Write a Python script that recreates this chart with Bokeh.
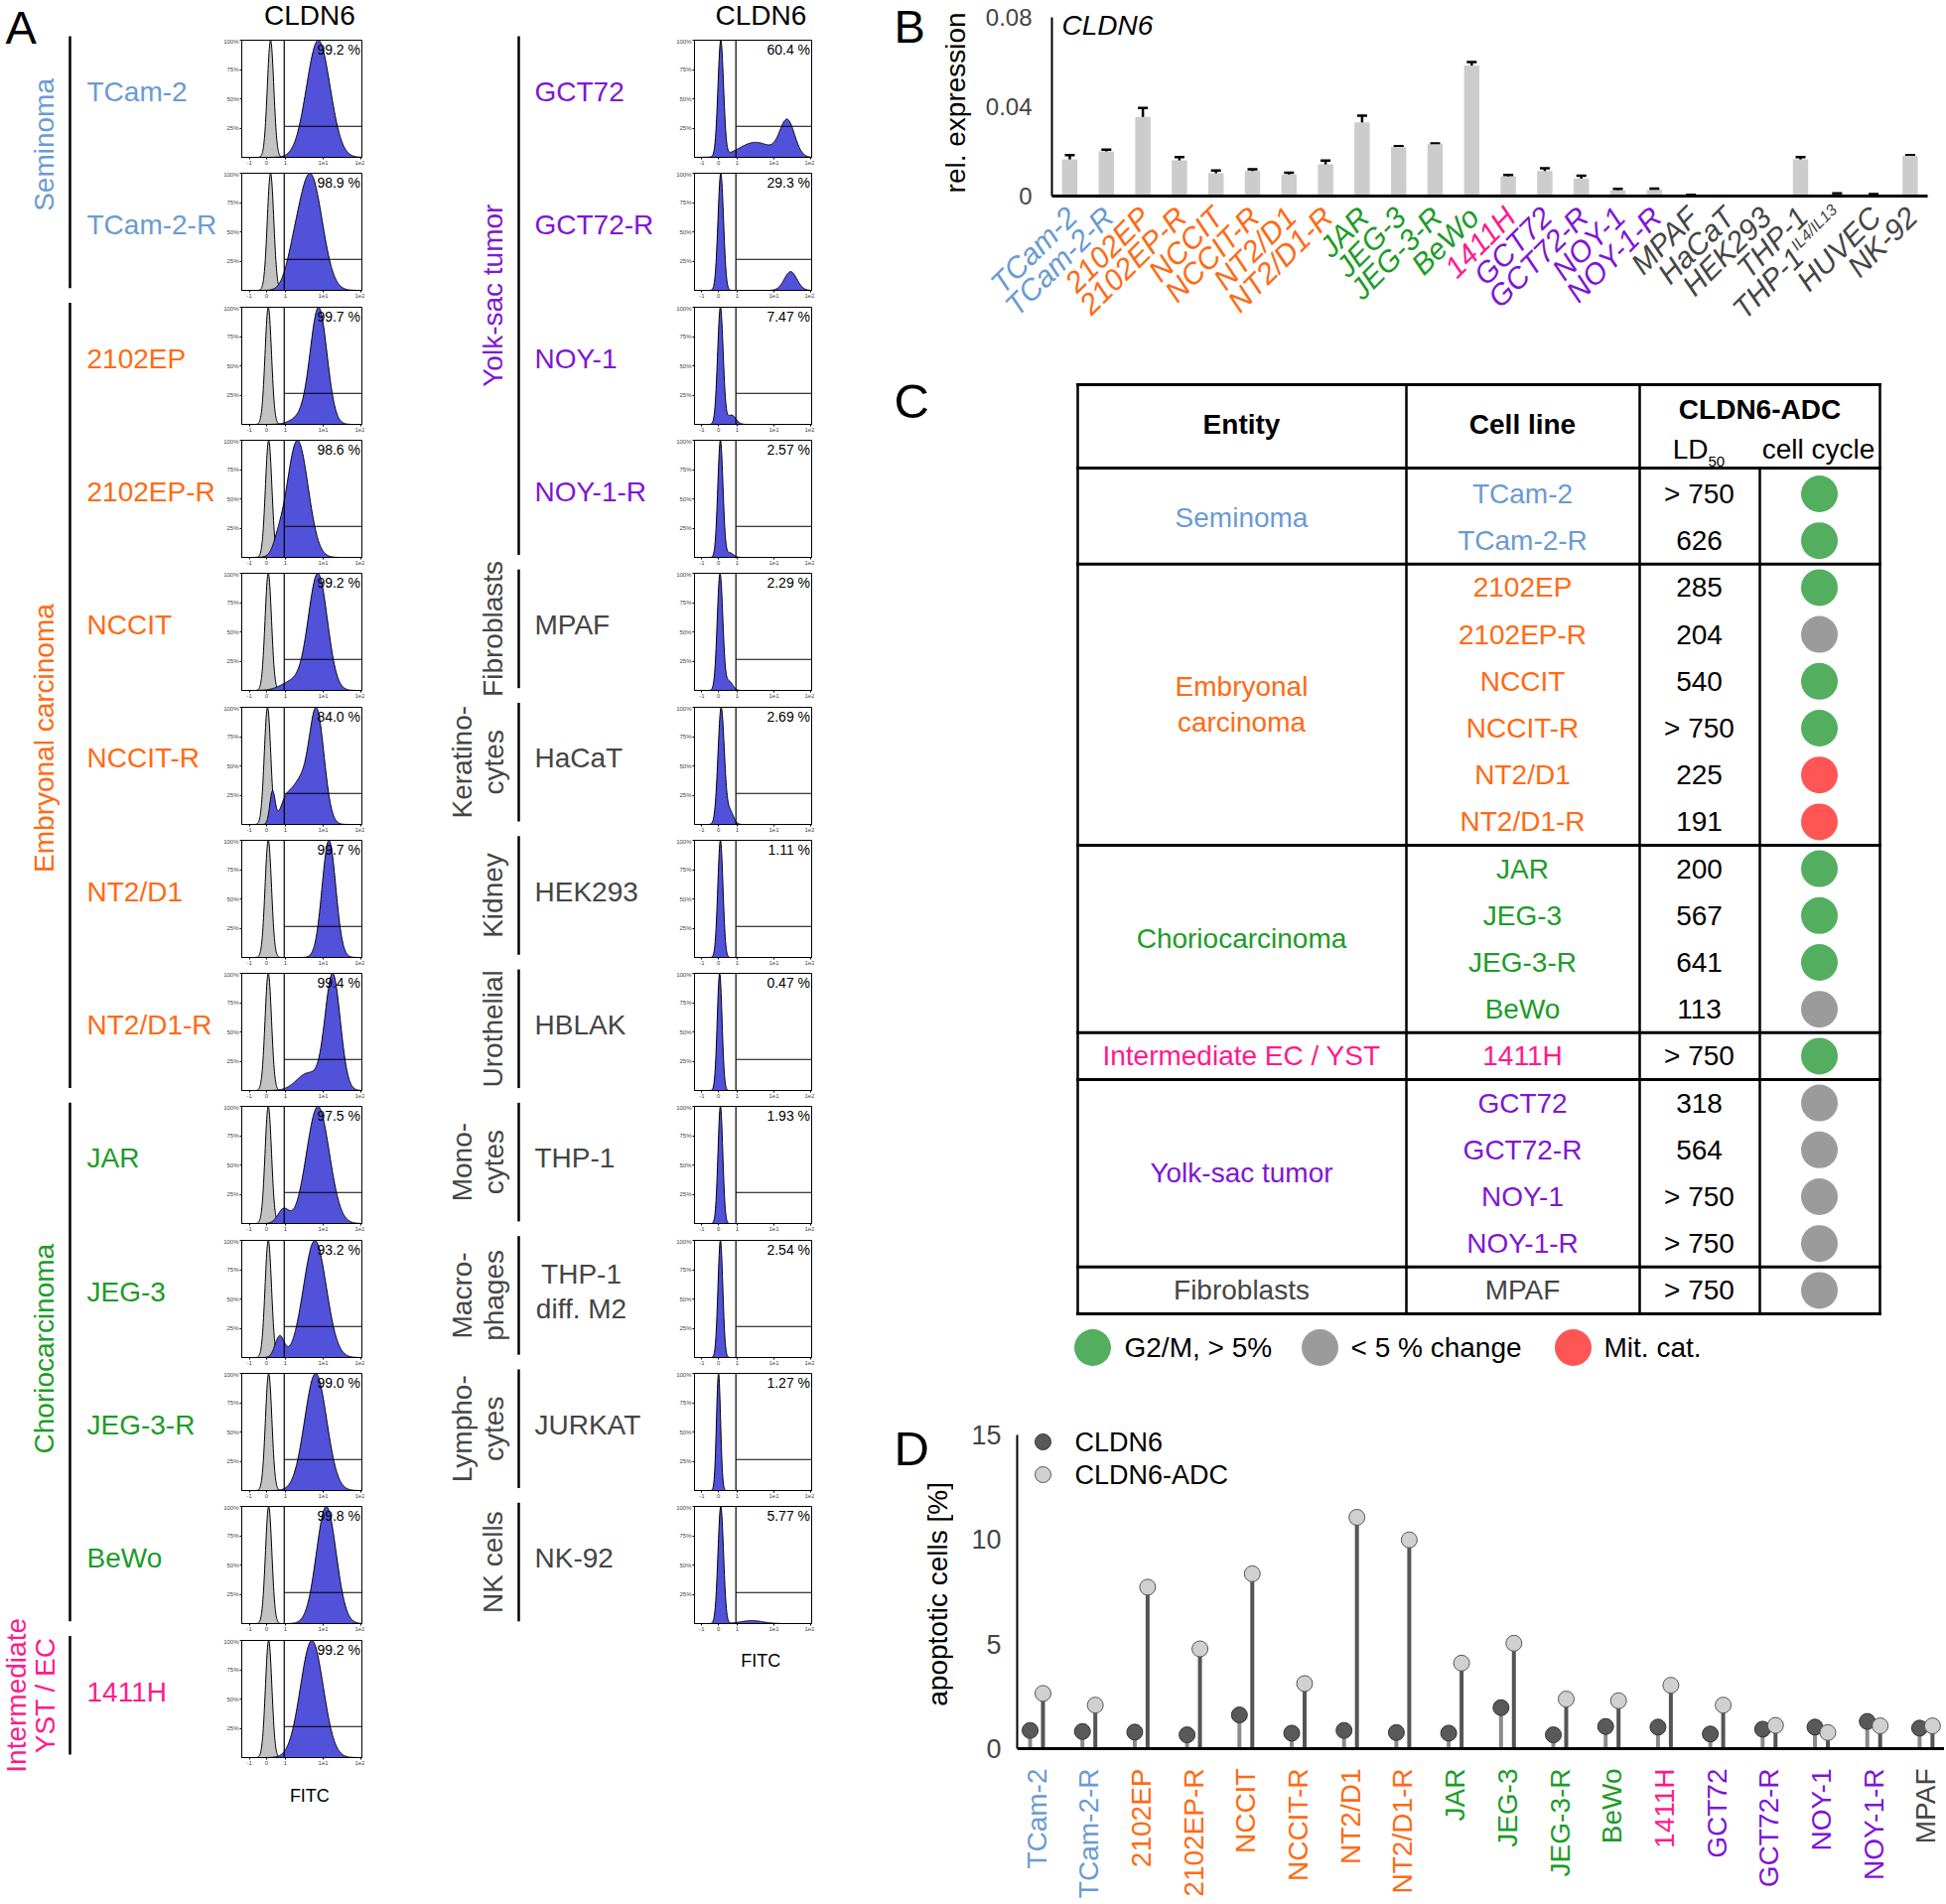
import math
import numpy as np
from bokeh.plotting import figure
from bokeh.layouts import row, column
from bokeh.models import Range1d, ColumnDataSource, Whisker, TeeHead, FixedTicker
from bokeh.core.properties import value
from bokeh.embed import file_html
from bokeh.resources import INLINE

FONT = "Liberation Sans"
GROUP_COLORS = {"S": "#6a9bd3", "E": "#ff6a13", "C": "#1c9c28", "I": "#ff1a8c",
                "Y": "#7f16d4", "O": "#454545"}

# ---------------- Panel A data (flow cytometry, CLDN6 / FITC) ----------------
a_left_lines = ["TCam-2", "TCam-2-R", "2102EP", "2102EP-R", "NCCIT", "NCCIT-R", "NT2/D1",
                "NT2/D1-R", "JAR", "JEG-3", "JEG-3-R", "BeWo", "1411H"]
a_left_groups = ["S", "S", "E", "E", "E", "E", "E", "E", "C", "C", "C", "C", "I"]
a_left_pct = ["99.2 %", "98.9 %", "99.7 %", "98.6 %", "99.2 %", "84.0 %", "99.7 %", "99.4 %",
              "97.5 %", "93.2 %", "99.0 %", "99.8 %", "99.2 %"]
a_left_ctrl = [0.61, 0.61, 0.55, 0.56, 0.55, 0.53, 0.55, 0.55, 0.55, 0.55, 0.56, 0.56, 0.56]
a_left_peaks = [
    [(1.87, 0.31, 1.0)],
    [(1.66, 0.31, 1.0), (1.2, 0.2, 0.15)],
    [(1.88, 0.22, 1.0), (1.4, 0.25, 0.06)],
    [(1.32, 0.28, 1.0), (0.8, 0.12, 0.07)],
    [(1.86, 0.25, 1.0), (1.2, 0.3, 0.08)],
    [(1.82, 0.2, 1.0), (1.35, 0.2, 0.33), (0.66, 0.07, 0.28), (1.0, 0.15, 0.18)],
    [(2.15, 0.18, 1.0)],
    [(2.25, 0.2, 1.0), (1.6, 0.3, 0.15)],
    [(1.86, 0.3, 1.0), (0.95, 0.15, 0.12)],
    [(1.78, 0.3, 1.0), (0.85, 0.12, 0.18)],
    [(1.8, 0.29, 1.0)],
    [(2.08, 0.26, 1.0)],
    [(1.7, 0.3, 1.0)],
]
a_left_sections = [(["Seminoma"], 0, 1, "S"), (["Embryonal carcinoma"], 2, 7, "E"),
                   (["Choriocarcinoma"], 8, 11, "C"), (["Intermediate", "YST / EC"], 12, 12, "I")]

a_right_lines = ["GCT72", "GCT72-R", "NOY-1", "NOY-1-R", "MPAF", "HaCaT", "HEK293", "HBLAK",
                 "THP-1", "THP-1\ndiff. M2", "JURKAT", "NK-92"]
a_right_groups = ["Y", "Y", "Y", "Y", "O", "O", "O", "O", "O", "O", "O", "O"]
a_right_pct = ["60.4 %", "29.3 %", "7.47 %", "2.57 %", "2.29 %", "2.69 %", "1.11 %", "0.47 %",
               "1.93 %", "2.54 %", "1.27 %", "5.77 %"]
a_right_peaks = [
    [(0.56, 0.075, 1.0), (1.5, 0.45, 0.13), (2.36, 0.2, 0.31)],
    [(0.56, 0.075, 1.0), (2.45, 0.17, 0.16)],
    [(0.55, 0.075, 1.0), (0.85, 0.12, 0.08)],
    [(0.55, 0.07, 1.0), (0.8, 0.1, 0.04)],
    [(0.54, 0.075, 1.0), (0.78, 0.1, 0.08)],
    [(0.57, 0.085, 1.0), (0.8, 0.1, 0.12)],
    [(0.55, 0.07, 1.0)],
    [(0.53, 0.065, 1.0)],
    [(0.55, 0.065, 1.0)],
    [(0.55, 0.065, 1.0)],
    [(0.5, 0.055, 1.0)],
    [(0.56, 0.075, 1.0), (1.4, 0.3, 0.025)],
]
a_right_sections = [(["Yolk-sac tumor"], 0, 3, "Y"), (["Fibroblasts"], 4, 4, "O"),
                    (["Keratino-", "cytes"], 5, 5, "O"), (["Kidney"], 6, 6, "O"),
                    (["Urothelial"], 7, 7, "O"), (["Mono-", "cytes"], 8, 8, "O"),
                    (["Macro-", "phages"], 9, 9, "O"), (["Lympho-", "cytes"], 10, 10, "O"),
                    (["NK cells"], 11, 11, "O")]
hist_x_ticks = [0.05, 0.5, 1, 2, 3]
hist_x_labels = ["-1", "0", "1", "1e1", "1e2"]
hist_y_ticks = [0.25, 0.5, 0.75, 1.0]
hist_y_labels = ["25%", "50%", "75%", "100%"]
gate_x = 0.97
gate_y = 0.265

# ---------------- Panel B data (rel. expression) ----------------
b_lines = ["TCam-2", "TCam-2-R", "2102EP", "2102EP-R", "NCCIT", "NCCIT-R", "NT2/D1", "NT2/D1-R",
           "JAR", "JEG-3", "JEG-3-R", "BeWo", "1411H", "GCT72", "GCT72-R", "NOY-1", "NOY-1-R",
           "MPAF", "HaCaT", "HEK293", "THP-1", "THP-1", "HUVEC", "NK-92"]
b_sup = [""] * 21 + ["IL4/IL13", "", ""]
b_groups = ["S", "S", "E", "E", "E", "E", "E", "E", "C", "C", "C", "C", "I", "Y", "Y", "Y", "Y",
            "O", "O", "O", "O", "O", "O", "O"]
b_rel = [0.0165, 0.0200, 0.0355, 0.0160, 0.0102, 0.0112, 0.0097, 0.0142, 0.0330, 0.0220, 0.0232,
         0.0585, 0.0088, 0.0112, 0.0078, 0.0026, 0.0028, 0.0004, 0.0, 0.0, 0.0165, 0.0008,
         0.0006, 0.0180]
b_err = [0.0018, 0.0008, 0.0040, 0.0015, 0.0012, 0.0008, 0.0008, 0.0017, 0.0030, 0.0003, 0.0004,
         0.0015, 0.0006, 0.0012, 0.0013, 0.0006, 0.0005, 0.0002, 0.0, 0.0, 0.0010, 0.0004,
         0.0003, 0.0003]
b_ticks = [0, 0.04, 0.08]
b_tick_labels = ["0", "0.04", "0.08"]

# ---------------- Panel C data (table) ----------------
c_lines = ["TCam-2", "TCam-2-R", "2102EP", "2102EP-R", "NCCIT", "NCCIT-R", "NT2/D1", "NT2/D1-R",
           "JAR", "JEG-3", "JEG-3-R", "BeWo", "1411H", "GCT72", "GCT72-R", "NOY-1", "NOY-1-R", "MPAF"]
c_groups = ["S", "S", "E", "E", "E", "E", "E", "E", "C", "C", "C", "C", "I", "Y", "Y", "Y", "Y", "O"]
c_ld50 = ["> 750", "626", "285", "204", "540", "> 750", "225", "191", "200", "567", "641", "113",
          "> 750", "318", "564", "> 750", "> 750", "> 750"]
c_cycle = ["G", "G", "G", "N", "G", "G", "M", "M", "G", "G", "G", "N", "G", "N", "N", "N", "N", "N"]
c_entities = [(["Seminoma"], 0, 1, "S"), (["Embryonal", "carcinoma"], 2, 7, "E"),
              (["Choriocarcinoma"], 8, 11, "C"), (["Intermediate EC / YST"], 12, 12, "I"),
              (["Yolk-sac tumor"], 13, 16, "Y"), (["Fibroblasts"], 17, 17, "O")]
c_cycle_colors = {"G": "#53ae5f", "N": "#9b9b9b", "M": "#ff5555"}
c_legend_keys = ["G", "N", "M"]
c_legend_text = ["G2/M, > 5%", "< 5 % change", "Mit. cat."]

# ---------------- Panel D data (apoptotic cells) ----------------
d_lines = ["TCam-2", "TCam-2-R", "2102EP", "2102EP-R", "NCCIT", "NCCIT-R", "NT2/D1", "NT2/D1-R",
           "JAR", "JEG-3", "JEG-3-R", "BeWo", "1411H", "GCT72", "GCT72-R", "NOY-1", "NOY-1-R", "MPAF"]
d_groups = ["S", "S", "E", "E", "E", "E", "E", "E", "C", "C", "C", "C", "I", "Y", "Y", "Y", "Y", "O"]
d_cldn6 = [0.87, 0.82, 0.79, 0.66, 1.61, 0.74, 0.87, 0.77, 0.74, 1.96, 0.66, 1.06, 1.03, 0.70,
           0.93, 1.03, 1.30, 0.98]
d_adc = [2.64, 2.08, 7.72, 4.77, 8.36, 3.11, 11.06, 9.98, 4.09, 5.04, 2.37, 2.29, 3.03, 2.08,
         1.11, 0.77, 1.09, 1.09]
d_ticks = [0, 5, 10, 15]
d_series = ["CLDN6", "CLDN6-ADC"]
d_fill = ["#595959", "#d0d0d0"]
d_edge = ["#333333", "#555555"]
d_stem = ["#8c8c8c", "#555555"]


# ---------------- helpers ----------------
def px_fig(x0, x1, y0, y1, xr=None, yr=None):
    p = figure(width=int(x1 - x0), height=int(y1 - y0),
               x_range=xr if xr is not None else Range1d(x0, x1),
               y_range=yr if yr is not None else Range1d(y1, y0),
               x_axis_type=None, y_axis_type=None, output_backend="svg",
               toolbar_location=None, min_border=0, title=None)
    p.outline_line_color = None
    return p


def txt(p, xs, ys, texts, size, color="black", align="center", baseline="middle",
        angle=0.0, style="normal", xo=0, yo=0):
    src = ColumnDataSource(dict(x=list(xs), y=list(ys), t=list(texts),
                                c=color if isinstance(color, list) else [color] * len(texts),
                                xo=xo if isinstance(xo, list) else [xo] * len(texts),
                                yo=yo if isinstance(yo, list) else [yo] * len(texts)))
    p.text(x="x", y="y", text="t", source=src, text_color="c", x_offset="xo", y_offset="yo",
           text_font=value(FONT), text_font_size=value(f"{size}px"), text_align=align,
           text_baseline=baseline, angle=angle, text_font_style=style)


def plain_axis(ax, ticks, size, standoff, width):
    ax.ticker = FixedTicker(ticks=ticks)
    ax.major_tick_out = 0
    ax.major_tick_in = 0
    ax.minor_tick_out = 0
    ax.minor_tick_in = 0
    ax.major_label_standoff = standoff
    ax.axis_line_width = width
    ax.axis_line_color = "black"
    ax.major_label_text_font = FONT
    ax.major_label_text_font_size = size


W_TOT, H_TOT = 1958, 1916

# ---------------- Panel A ----------------
A_TOP, A_PITCH, A_FH = 40, 134.3, 118


def a_row(y):
    return (y - A_TOP) / A_PITCH


def label_fig(x0, x1, lines, groups, sections, shifts, line_x, label_x, two_dx, multi_x):
    p = px_fig(x0, x1, 0, H_TOT, yr=Range1d(a_row(H_TOT), a_row(0)))
    p.segment(x0=[line_x] * len(sections), x1=[line_x] * len(sections),
              y0=[s - 0.03 for _, s, _, _ in sections], y1=[e + 0.86 for _, _, e, _ in sections],
              line_width=2.5, line_color="black")
    for (names, s, e, g), sh in zip(sections, shifts):
        yc = (s - 0.03 + e + 0.86) / 2 + sh
        xs = [line_x - 26] if len(names) == 1 else [line_x + two_dx[0], line_x + two_dx[1]]
        txt(p, xs, [yc] * len(names), names, 28, GROUP_COLORS[g], angle=math.pi / 2)
    for i, (name, g) in enumerate(zip(lines, groups)):
        parts = name.split("\n")
        if len(parts) == 1:
            txt(p, [label_x], [i + 0.387], parts, 28, GROUP_COLORS[g], align="left")
        else:
            txt(p, [multi_x] * 2, [i + 0.387 - 0.13, i + 0.387 + 0.13], parts, 28, GROUP_COLORS[g])
    return p


U = np.linspace(-0.15, 3.02, 420)


def density(peaks):
    d = np.zeros_like(U)
    for c, s, h in peaks:
        d += h * np.exp(-0.5 * ((U - c) / s) ** 2)
    return d / d.max()


def hist_fig(x0, x1, h, peaks, pct, ctrl=None):
    p = figure(width=int(x1 - x0), height=int(h), x_range=Range1d(-0.15, 3.02),
               y_range=Range1d(0, 1.0), output_backend="svg", toolbar_location=None, title=None,
               min_border_left=22, min_border_right=3, min_border_top=2,
               min_border_bottom=int(h - 2 - A_FH))
    p.grid.visible = False
    p.outline_line_color = "black"
    p.outline_line_width = 1
    p.xaxis.ticker = hist_x_ticks
    p.xaxis.major_label_overrides = dict(zip(hist_x_ticks, hist_x_labels))
    p.yaxis.ticker = hist_y_ticks
    p.yaxis.major_label_overrides = dict(zip(hist_y_ticks, hist_y_labels))
    for ax in (p.xaxis[0], p.yaxis[0]):
        ax.major_label_text_font = FONT
        ax.major_label_text_font_size = "6px"
        ax.major_tick_out = 2
        ax.major_tick_in = 0
        ax.minor_tick_out = 0
        ax.minor_tick_in = 0
        ax.major_label_standoff = 1
        ax.axis_line_color = "black"
    if ctrl is not None:
        dc = density([(ctrl, 0.085, 1.0)])
        p.varea(x=U, y1=0, y2=dc, fill_color="#c3c3c3")
        p.line(U, dc, line_color="black", line_width=1)
    db = density(peaks)
    p.varea(x=U, y1=0, y2=db, fill_color="#5151da")
    p.line(U, db, line_color="black", line_width=1)
    p.segment(x0=[gate_x, gate_x], y0=[0, gate_y], x1=[gate_x, 3.02], y1=[1.0, gate_y],
              line_color="black", line_width=1.2)
    txt(p, [2.98], [0.985], [pct], 14, align="right", baseline="top")
    return p


tops = [round(A_TOP + A_PITCH * i) - 2 for i in range(14)]


def hist_column(x0, x1, pcts, peaks, ctrls, title_x, fitc_y):
    n = len(pcts)
    hdr = px_fig(x0, x1, 0, tops[0])
    txt(hdr, [title_x], [15], ["CLDN6"], 28)
    figs = [hdr]
    for i in range(n):
        h = tops[i + 1] - tops[i] if i < n - 1 else 134
        figs.append(hist_fig(x0, x1, h, peaks[i], pcts[i], ctrls[i] if ctrls else None))
    fy0 = tops[n - 1] + 134
    ftr = px_fig(x0, x1, fy0, H_TOT)
    txt(ftr, [title_x], [fitc_y], ["FITC"], 18)
    figs.append(ftr)
    return column(*figs)


left_labels = label_fig(0, 221, a_left_lines, a_left_groups, a_left_sections,
                        [-0.13, 0.32, -0.1, 0.0], 70, 87, (-54, -25), 0)
txt(left_labels, [5], [a_row(27)], ["A"], 47, align="left")
left_hist = hist_column(221, 367, a_left_pct, a_left_peaks, a_left_ctrl, 303.5, 1808)
mid_labels = label_fig(367, 677, a_right_lines, a_right_groups, a_right_sections,
                       [0.0] * len(a_right_sections), 522, 538, (-57, -25), 585)
right_hist = hist_column(677, 820, a_right_pct, a_right_peaks, None, 758, 1672)

# ---------------- Panel B ----------------
b_dec = px_fig(820, 980, 0, 340)
txt(b_dec, [900], [27], ["B"], 47, align="left")
txt(b_dec, [962], [106], ["rel. expression"], 28, angle=math.pi / 2)

B_CAT0, B_PITCH, B_AXIS_X, B_AXIS_END, B_LEFT = 1077, 36.8, 1059, 1941, 980
B_ZERO, B_SCALE = 197, 2250.0
bx = list(range(len(b_lines)))
pb = figure(width=W_TOT - B_LEFT, height=340,
            x_range=Range1d((B_LEFT - B_CAT0) / B_PITCH, (W_TOT - B_CAT0) / B_PITCH),
            y_range=Range1d(-(330 - B_ZERO) / B_SCALE, B_ZERO / B_SCALE), output_backend="svg",
            toolbar_location=None, title=None, min_border_left=0, min_border_right=0,
            min_border_top=0, min_border_bottom=10)
pb.grid.visible = False
pb.outline_line_color = None
plain_axis(pb.yaxis[0], b_ticks, "24px", 20, 2)
pb.yaxis.major_label_overrides = dict(zip(b_ticks, b_tick_labels))
pb.yaxis.bounds = (0, 0.08)
pb.yaxis.fixed_location = (B_AXIS_X - B_CAT0) / B_PITCH
plain_axis(pb.xaxis[0], [], "0px", 0, 3)
pb.xaxis.fixed_location = 0
pb.xaxis.bounds = ((B_AXIS_X - B_CAT0) / B_PITCH, (B_AXIS_END - B_CAT0) / B_PITCH)
pb.vbar(x=bx, top=b_rel, width=0.42, fill_color="#cccccc", line_color=None)
eb = [(x, r, e) for x, r, e in zip(bx, b_rel, b_err) if e > 0]
esrc = ColumnDataSource(dict(x=[v[0] for v in eb], upper=[v[1] + v[2] for v in eb],
                             lower=[v[1] - v[2] for v in eb]))
pb.add_layout(Whisker(source=esrc, base="x", upper="upper", lower="lower", line_width=2.5,
                      line_color="black",
                      upper_head=TeeHead(size=10, line_width=2.5, line_color="black"),
                      lower_head=TeeHead(size=10, line_width=2.5, line_color="black")))
txt(pb, [(1069 - B_CAT0) / B_PITCH], [(B_ZERO - 25) / B_SCALE], ["CLDN6"], 28, align="left",
    style="italic")

SUP_LEN = 58
cdir = math.cos(math.pi / 4)
b_xo = [2 - (SUP_LEN * cdir if s else 0) for s in b_sup]
b_yo = [16 + (SUP_LEN * cdir if s else 0) for s in b_sup]
txt(pb, bx, [0] * len(bx), b_lines, 30, [GROUP_COLORS[g] for g in b_groups], align="right",
    angle=math.pi / 4, style="italic", xo=b_xo, yo=b_yo)
sup_idx = [i for i, s in enumerate(b_sup) if s]
txt(pb, [bx[i] for i in sup_idx], [0] * len(sup_idx), [b_sup[i] for i in sup_idx], 16,
    [GROUP_COLORS[b_groups[i]] for i in sup_idx], align="right", angle=math.pi / 4,
    style="italic", xo=2 - 7 * cdir, yo=16 - 7 * cdir)

# ---------------- Panel C ----------------
C_ROW0, C_ROWH = 497, 47.2


def c_row(y):
    return (y - C_ROW0) / C_ROWH


pc = px_fig(820, W_TOT, 340, 1420, yr=Range1d(c_row(1420), c_row(340)))
TAB_X = [1085, 1416, 1651, 1772, 1893]
top_r, head_r, bot_r = c_row(387), c_row(471), len(c_lines) - 0.5
bounds = [e + 0.5 for (_, s, e, _) in c_entities[:-1]]
hy = [top_r, head_r] + bounds + [bot_r]
pc.segment(x0=[TAB_X[0]] * len(hy), x1=[TAB_X[-1]] * len(hy), y0=hy, y1=hy,
           line_width=3, line_color="black", line_cap="square")
vx = [TAB_X[0], TAB_X[1], TAB_X[2], TAB_X[4], TAB_X[3]]
pc.segment(x0=vx, x1=vx, y0=[top_r] * 4 + [head_r], y1=[bot_r] * 5, line_width=2.5,
           line_color="black", line_cap="square")
rows_c = list(range(len(c_lines)))
txt(pc, [1533] * len(rows_c), rows_c, c_lines, 28, [GROUP_COLORS[g] for g in c_groups])
txt(pc, [1711] * len(rows_c), rows_c, c_ld50, 28)
pc.scatter(x=[1832] * len(rows_c), y=rows_c, size=37, marker="circle",
           fill_color=[c_cycle_colors[k] for k in c_cycle], line_color=None)
for names, s, e, g in c_entities:
    yc = (s + e) / 2
    ys = [yc] if len(names) == 1 else [yc - 0.38, yc + 0.38]
    txt(pc, [1250] * len(names), ys, names, 28, GROUP_COLORS[g])
txt(pc, [1250, 1533, 1772], [c_row(427), c_row(427), c_row(412)],
    ["Entity", "Cell line", "CLDN6-ADC"], 28, style="bold")
txt(pc, [1720], [c_row(452)], ["LD"], 28, align="right")
txt(pc, [1720], [c_row(464)], ["50"], 15, align="left")
txt(pc, [1831], [c_row(452)], ["cell cycle"], 28)
txt(pc, [900], [c_row(403)], ["C"], 49, align="left")
leg_r = c_row(1357)
pc.scatter(x=[1100, 1329, 1584], y=[leg_r] * 3, size=37, marker="circle",
           fill_color=[c_cycle_colors[k] for k in c_legend_keys], line_color=None)
txt(pc, [1132, 1360, 1615], [leg_r] * 3, c_legend_text, 28, align="left")

# ---------------- Panel D ----------------
d_dec = px_fig(820, 960, 1420, H_TOT)
txt(d_dec, [900], [1449], ["D"], 49, align="left")
txt(d_dec, [944], [1599], ["apoptotic cells [%]"], 28, angle=math.pi / 2)

D_CAT0, D_PITCH, D_ZERO, D_UNIT, D_LEFT, D_TOP = 1043.5, 52.7, 1761, 21.07, 1024, 1430
dx = np.arange(len(d_lines))
pdd = figure(width=W_TOT - 960, height=H_TOT - 1420,
             x_range=Range1d((D_LEFT - D_CAT0) / D_PITCH, (W_TOT - D_CAT0) / D_PITCH),
             y_range=Range1d((D_ZERO - H_TOT) / D_UNIT, (D_ZERO - D_TOP) / D_UNIT),
             output_backend="svg", toolbar_location=None, title=None,
             min_border_left=D_LEFT - 960, min_border_right=0, min_border_top=D_TOP - 1420,
             min_border_bottom=0)
pdd.grid.visible = False
pdd.outline_line_color = None
plain_axis(pdd.yaxis[0], d_ticks, "27px", 16, 2)
pdd.yaxis.bounds = (0, 15)
plain_axis(pdd.xaxis[0], [], "0px", 0, 3)
pdd.xaxis.fixed_location = 0
DODGE = 0.123
for k, vals in enumerate([d_cldn6, d_adc]):
    xs = dx + (2 * k - 1) * DODGE
    pdd.segment(x0=xs, x1=xs, y0=0, y1=vals, line_color=d_stem[k], line_width=4)
for k, vals in enumerate([d_cldn6, d_adc]):
    xs = dx + (2 * k - 1) * DODGE
    pdd.scatter(xs, vals, size=16, marker="circle", fill_color=d_fill[k],
                line_color=d_edge[k], line_width=1)
txt(pdd, list(dx), [0] * len(dx), d_lines, 28, [GROUP_COLORS[g] for g in d_groups],
    align="right", angle=math.pi / 2, yo=20)
# legend (top-left of the plot area)
leg_x = (1050 - D_CAT0) / D_PITCH
leg_y = [(D_ZERO - 1452) / D_UNIT, (D_ZERO - 1485) / D_UNIT]
pdd.scatter([leg_x, leg_x], leg_y, size=16, marker="circle", fill_color=d_fill,
            line_color=d_edge, line_width=1)
txt(pdd, [(1082 - D_CAT0) / D_PITCH] * 2, leg_y, d_series, 27, align="left")

right_side = column(row(b_dec, pb), pc, row(d_dec, pdd))
layout = row(left_labels, left_hist, mid_labels, right_hist, right_side)

open("out.html", "w").write(file_html(layout, INLINE))
